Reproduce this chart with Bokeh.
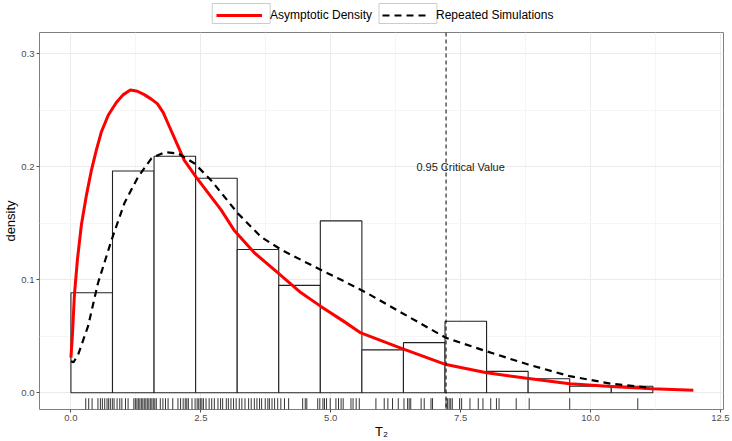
from bokeh.plotting import figure
from bokeh.layouts import column
from bokeh.models import Range1d, FixedTicker, PrintfTickFormatter, Legend, LegendItem, Span, Label
from bokeh.embed import file_html
from bokeh.resources import INLINE

# ---------------- data ----------------
bin_left = [0.0, 0.8, 1.6, 2.4, 3.2, 4.0, 4.8, 5.6, 6.4, 7.2, 8.0, 8.8, 9.6, 10.4]
bin_width = 0.8
hist_density = [0.0886, 0.1964, 0.2094, 0.1900, 0.1269, 0.0951, 0.1522,
                0.0380, 0.0444, 0.0633, 0.0190, 0.0124, 0.0058, 0.0058]

asym_x = [0.0, 0.029, 0.067, 0.125, 0.202, 0.298, 0.394, 0.49, 0.586, 0.72, 0.874,
          1.009, 1.143, 1.278, 1.412, 1.547, 1.662, 1.777, 1.892, 2.008, 2.18, 2.41,
          2.64, 2.89, 3.14, 3.53, 3.99, 4.43, 4.81, 5.26, 5.58, 6.35, 7.22, 8.0,
          8.81, 9.6, 10.4, 11.19, 11.98]
asym_y = [0.0311, 0.0515, 0.0868, 0.118, 0.149, 0.175, 0.197, 0.215, 0.231, 0.246, 0.257,
          0.264, 0.268, 0.267, 0.264, 0.260, 0.256, 0.248, 0.236, 0.224, 0.206, 0.191,
          0.177, 0.162, 0.144, 0.124, 0.106, 0.0885, 0.0765, 0.063, 0.053, 0.0396, 0.025, 0.0177,
          0.0126, 0.008, 0.0056, 0.0035, 0.0023]

sim_x = [0.0, 0.05, 0.14, 0.33, 0.52, 0.78, 1.03, 1.29, 1.55, 1.80, 2.06, 2.38, 2.70,
         3.21, 3.66, 4.05, 4.68, 5.2, 5.71, 6.32, 7.22, 8.0, 8.8, 9.6, 10.4, 11.15]
sim_y = [0.028, 0.027, 0.034, 0.059, 0.097, 0.135, 0.168, 0.191, 0.2076, 0.213, 0.212,
         0.203, 0.188, 0.159, 0.138, 0.1266, 0.1118, 0.100, 0.088, 0.072, 0.0486, 0.0367,
         0.025, 0.0147, 0.008, 0.0045]

critical_value = 7.22
critical_label = "0.95 Critical Value"
critical_label_pos = (7.5, 0.2)

rug_x = [0.285, 0.342, 0.407, 0.52, 0.567, 0.605, 0.65, 0.695, 0.726, 0.759, 0.797, 0.83,
         0.888, 0.94, 0.98, 1.05, 1.10, 1.211, 1.24, 1.27, 1.297, 1.326, 1.355, 1.383,
         1.412, 1.441, 1.47, 1.499, 1.528, 1.557, 1.585, 1.614, 1.643, 1.72, 1.77, 1.82,
         1.87, 1.96, 2.06, 2.11, 2.16, 2.20, 2.23, 2.26, 2.33, 2.39, 2.43, 2.46, 2.49,
         2.52, 2.55, 2.60, 2.66, 2.71, 2.76, 2.83, 2.88, 2.92, 2.99, 3.03, 3.08, 3.13,
         3.18, 3.24, 3.29, 3.35, 3.42, 3.47, 3.53, 3.58, 3.63, 3.67, 3.74, 3.79, 3.82,
         3.87, 3.92, 3.98, 4.04, 4.11, 4.19, 4.46, 4.51, 4.54, 4.75, 4.79, 4.85, 4.88,
         4.92, 4.99, 5.10, 5.15, 5.20, 5.24, 5.39, 5.43, 5.49, 5.55, 5.87, 6.03, 6.10,
         6.19, 6.30, 6.41, 6.48, 6.51, 6.54, 6.74, 6.80, 6.93, 6.96, 7.22, 7.25, 7.28,
         7.31, 7.34, 7.48, 7.52, 7.68, 7.84, 7.93, 8.08, 8.19, 8.24, 8.57, 8.82, 9.60, 10.91]

x_ticks = [0.0, 2.5, 5.0, 7.5, 10.0, 12.5]
x_minor = [1.25, 3.75, 6.25, 8.75, 11.25]
y_ticks = [0.0, 0.1, 0.2, 0.3]
y_minor = [0.05, 0.15, 0.25]

legend_labels = ["Asymptotic Density", "Repeated Simulations"]
x_title = "T\u2082"
y_title = "density"

# ---------------- styling constants ----------------
FONT = "Liberation Sans"
W = 732
LEG_H = 28
MAIN_H = 441 - LEG_H
FRAME_L, FRAME_R = 38, 723   # main frame pixel bounds (column aligns frames)
x0, x1 = -0.605, 12.56
y0, y1 = -0.0148, 0.319

RED = "#FF0000"
ASYM_STYLE = dict(line_color=RED, line_width=3, line_join="round")
SIM_STYLE = dict(line_color="black", line_width=2.2, line_dash="7 5")

# ---------------- main figure ----------------
p = figure(width=W, height=MAIN_H, output_backend="svg", toolbar_location=None,
           x_range=Range1d(x0, x1), y_range=Range1d(y0, y1),
           min_border_left=FRAME_L, min_border_right=W - FRAME_R, min_border_top=4,
           min_border_bottom=31)

p.background_fill_color = "white"
p.border_fill_color = "white"
p.outline_line_color = "#7F7F7F"
p.outline_line_width = 1

for ax, ticks, minor in ((p.xaxis[0], x_ticks, x_minor), (p.yaxis[0], y_ticks, y_minor)):
    ax.ticker = FixedTicker(ticks=ticks, minor_ticks=minor)
    ax.formatter = PrintfTickFormatter(format="%.1f")
    ax.axis_line_color = None
    ax.major_tick_line_color = "#4D4D4D"
    ax.major_tick_out = 3
    ax.major_tick_in = 0
    ax.minor_tick_line_color = None
    ax.major_label_text_font = FONT
    ax.major_label_text_font_size = "9.5px"
    ax.major_label_text_color = "#4D4D4D"
    ax.axis_label_text_font = FONT
    ax.axis_label_text_font_size = "13px"
    ax.axis_label_text_font_style = "normal"
    ax.axis_label_text_color = "black"

p.xaxis.axis_label = x_title
p.yaxis.axis_label = y_title
p.xaxis.major_label_standoff = 1
p.xaxis.axis_label_standoff = 0
p.yaxis.major_label_standoff = 1
p.yaxis.axis_label_standoff = 0

p.grid.grid_line_color = "#EBEBEB"
p.grid.grid_line_width = 1
p.grid.minor_grid_line_color = "#F5F5F5"
p.grid.minor_grid_line_width = 1

# histogram
bin_right = [b + bin_width for b in bin_left]
p.quad(left=bin_left, right=bin_right, bottom=0, top=hist_density,
       fill_color="white", line_color="#222222", line_width=1.1)

# critical value line
p.add_layout(Span(location=critical_value, dimension="height", line_color="black",
                  line_width=1, line_dash="4 3"))

# curves
p.line(asym_x, asym_y, **ASYM_STYLE)
p.line(sim_x, sim_y, **SIM_STYLE)

# critical label
p.add_layout(Label(x=critical_label_pos[0], y=critical_label_pos[1], text=critical_label,
                   text_align="center", text_baseline="middle", text_font=FONT,
                   text_font_size="11px", text_color="#1A1A1A"))

# rug
rug_len = 0.03 * (y1 - y0)
p.segment(x0=rug_x, x1=rug_x, y0=[y0] * len(rug_x), y1=[y0 + rug_len] * len(rug_x),
          line_color="black", line_width=0.8)

# ---------------- legend strip (pixel units) ----------------
lg = figure(width=W, height=LEG_H, output_backend="svg", toolbar_location=None,
            x_range=Range1d(FRAME_L, FRAME_R), y_range=Range1d(0, LEG_H),
            x_axis_type=None, y_axis_type=None, min_border=0)
lg.outline_line_color = None
lg.grid.visible = False
lg.background_fill_color = "white"
lg.border_fill_color = "white"

GLYPH_W, GLYPH_H, STANDOFF, SPACING, PAD = 46, 18, 8, 10, 2
LEG_LEFT = 215          # legend box left edge (canvas px)
LEG_BOTTOM = 4          # legend box bottom, from strip bottom (px)
KEY_MARGIN = 6          # ggplot key box margin around the glyph
label_w = [103.0, 117.5]  # approx label widths at 12px

# key boxes (decoration behind legend glyphs)
g1 = LEG_LEFT + PAD
g2 = g1 + GLYPH_W + STANDOFF + label_w[0] + SPACING
kb_left = [g1 - KEY_MARGIN, g2 - KEY_MARGIN]
kb_right = [g1 + GLYPH_W + KEY_MARGIN, g2 + GLYPH_W + KEY_MARGIN]
kb_bottom = LEG_BOTTOM + PAD - 1
kb_top = LEG_BOTTOM + PAD + GLYPH_H + 1
lg.quad(left=kb_left, right=kb_right, bottom=kb_bottom, top=kb_top,
        fill_color="white", line_color="#CCCCCC", line_width=1)

# legend proxies: lines placed below the visible strip
proxy_x = [FRAME_L, FRAME_L + 1]
proxy_y = [-50, -50]
l1 = lg.line(proxy_x, proxy_y, **ASYM_STYLE)
l2 = lg.line(proxy_x, proxy_y, **SIM_STYLE)
legend = Legend(items=[LegendItem(label=legend_labels[0], renderers=[l1]),
                       LegendItem(label=legend_labels[1], renderers=[l2])],
                orientation="horizontal", location=(LEG_LEFT - FRAME_L, LEG_BOTTOM),
                glyph_width=GLYPH_W, glyph_height=GLYPH_H, label_standoff=STANDOFF,
                spacing=SPACING, padding=PAD, margin=0, border_line_color=None,
                background_fill_alpha=0,
                label_text_font=FONT, label_text_font_size="12px", label_text_color="black")
lg.add_layout(legend)

layout = column(lg, p, spacing=0)
open("out.html", "w").write(file_html(layout, INLINE))
